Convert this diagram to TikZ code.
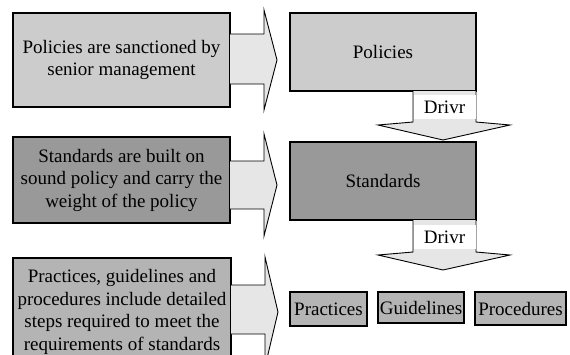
\documentclass[tikz,border=0pt]{standalone}
\usepackage{fontspec}
\setmainfont{Liberation Serif}
\usetikzlibrary{calc}
\definecolor{pale}{HTML}{CCCCCC}
\definecolor{midgrey}{HTML}{B4B4B4}
\definecolor{darkgrey}{HTML}{999999}
\definecolor{arrowfill}{HTML}{E6E6E6}
\begin{document}
\begin{tikzpicture}[x=1pt,y=-1pt,
  every node/.style={font=\fontsize{19}{22.5}\selectfont, inner sep=0pt, outer sep=0pt},
  bigbox/.style={draw, line width=1.5pt, align=center},
  itembox/.style={draw, line width=1.8pt, fill=midgrey},
  blockarrow/.style={draw, fill=arrowfill, line width=0.9pt, line join=miter},
  drivlabel/.style={fill=white, minimum width=62pt, minimum height=24pt}]
\useasboundingbox (0,0) rectangle (570,354);
\clip (0,0) rectangle (570,354);

% statements on the left
\node[bigbox, fill=pale, minimum width=217pt, minimum height=94pt] (s1) at (121.5,60)
  {Policies are sanctioned by\\senior management};
\node[bigbox, fill=darkgrey, minimum width=217pt, minimum height=86pt] (s2) at (121.5,180)
  {Standards are built on\\sound policy and carry the\\weight of the policy};
\node[bigbox, fill=midgrey, minimum width=218pt, minimum height=108pt] (s3) at (122,312)
  {Practices, guidelines and\\procedures include detailed\\steps required to meet the\\requirements of standards};

% hierarchy on the right
\node[bigbox, fill=pale, minimum width=186pt, minimum height=78pt] (pol) at (383,52) {Policies};
\node[bigbox, fill=darkgrey, minimum width=186pt, minimum height=78pt] (std) at (383,181) {Standards};
\node[itembox, minimum width=77pt, minimum height=34pt] (prac) at (328.5,309) {Practices};
\node[itembox, minimum width=86pt, minimum height=31pt] (guid) at (421,307.5) {Guidelines};
\node[itembox, minimum width=91pt, minimum height=33pt] (proc) at (520.5,308.5) {Procedures};

% block arrows from each statement to its level
\draw[blockarrow] (s1.east |- 0,34) -- (264,34) -- (264,10) -- (277,60) -- (264,110) -- (264,84) -- (s1.east |- 0,84);
\draw[blockarrow] (s2.east |- 0,161) -- (264,161) -- (264,134) -- (277,185) -- (264,236) -- (264,209) -- (s2.east |- 0,209);
\draw[blockarrow] (s3.east |- 0,285) -- (265,285) -- (265,257) -- (278,312) -- (265,367) -- (265,334) -- (s3.east |- 0,334);

% downward "Drivr" arrows between levels
\draw[blockarrow] ($(pol.south east)+(-63,0)$) -- (413,122) -- (378,125) -- (443,140) -- (510,125) -- (476,122) -- (pol.south east);
\node[drivlabel] (d1) at (444.5,107) {Drivr};
\draw[blockarrow] ($(std.south east)+(-63,0)$) -- (413,252) -- (378,255) -- (443,270) -- (510,255) -- (476,252) -- (std.south east);
\node[drivlabel] (d2) at (444.5,237) {Drivr};
\end{tikzpicture}
\end{document}
